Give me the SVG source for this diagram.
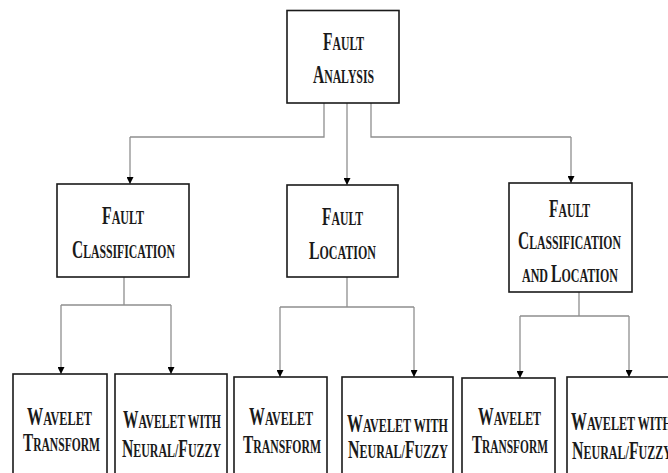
<svg xmlns="http://www.w3.org/2000/svg" width="668" height="473" viewBox="0 0 668 473">
<defs>
<marker id="ah" viewBox="0 0 10 10" refX="10" refY="5" markerWidth="10" markerHeight="7" markerUnits="userSpaceOnUse" orient="auto">
<path d="M0,0 L10,5 L0,10 z" fill="#000"/>
</marker>
</defs>
<style>
.box{fill:#fff;stroke:#1a1a1a;stroke-width:1.6}
.ln{fill:none;stroke:#8f8f8f;stroke-width:1.3}
.ar{fill:none;stroke:#8f8f8f;stroke-width:1.3;marker-end:url(#ah)}
text{font-family:"Liberation Serif","Times New Roman",serif;font-weight:bold;font-size:19px;fill:#1a1a1a}
.b{font-size:25px}
</style>
<rect width="668" height="473" fill="#fff"/>
<g id="connectors">
<path class="ln" d="M324,103 V137 H130"/>
<path class="ar" d="M130,137 V184"/>
<path class="ar" d="M347,103 V185"/>
<path class="ln" d="M371,103 V137 H571"/>
<path class="ar" d="M571,137 V183"/>
<path class="ln" d="M124,277 V305 M61,305 H171"/>
<path class="ar" d="M61,305 V374"/>
<path class="ar" d="M171,305 V374"/>
<path class="ln" d="M347,277 V307 M280,307 H414"/>
<path class="ar" d="M280,307 V377"/>
<path class="ar" d="M414,307 V377"/>
<path class="ln" d="M579,292 V316 M520,316 H629"/>
<path class="ar" d="M520,316 V378"/>
<path class="ar" d="M629,316 V377"/>
</g>
<g id="fault-analysis">
<rect class="box" x="287" y="10.5" width="112" height="92.5"/>
<text x="323" y="50" textLength="41" lengthAdjust="spacingAndGlyphs"><tspan class="b">F</tspan>AULT</text>
<text x="313" y="83" textLength="61" lengthAdjust="spacingAndGlyphs"><tspan class="b">A</tspan>NALYSIS</text>
</g>
<g id="fault-classification">
<rect class="box" x="57" y="184" width="132" height="93"/>
<text x="102" y="224" textLength="42" lengthAdjust="spacingAndGlyphs"><tspan class="b">F</tspan>AULT</text>
<text x="72" y="258" textLength="103" lengthAdjust="spacingAndGlyphs"><tspan class="b">C</tspan>LASSIFICATION</text>
</g>
<g id="fault-location">
<rect class="box" x="287" y="185" width="111" height="92"/>
<text x="322" y="225" textLength="41" lengthAdjust="spacingAndGlyphs"><tspan class="b">F</tspan>AULT</text>
<text x="309" y="259" textLength="67" lengthAdjust="spacingAndGlyphs"><tspan class="b">L</tspan>OCATION</text>
</g>
<g id="fault-classification-location">
<rect class="box" x="509" y="183" width="123" height="109"/>
<text x="549" y="217" textLength="41" lengthAdjust="spacingAndGlyphs"><tspan class="b">F</tspan>AULT</text>
<text x="518" y="249" textLength="103" lengthAdjust="spacingAndGlyphs"><tspan class="b">C</tspan>LASSIFICATION</text>
<text x="522" y="282" textLength="96" lengthAdjust="spacingAndGlyphs">AND <tspan class="b">L</tspan>OCATION</text>
</g>
<g id="wt-1">
<rect class="box" x="13" y="374" width="94" height="110"/>
<text x="27" y="425" textLength="65" lengthAdjust="spacingAndGlyphs"><tspan class="b">W</tspan>AVELET</text>
<text x="23" y="451" textLength="77" lengthAdjust="spacingAndGlyphs"><tspan class="b">T</tspan>RANSFORM</text>
</g>
<g id="wnf-1">
<rect class="box" x="115" y="374" width="112" height="110"/>
<text x="123" y="428" textLength="98" lengthAdjust="spacingAndGlyphs"><tspan class="b">W</tspan>AVELET WITH</text>
<text x="122" y="457" textLength="99" lengthAdjust="spacingAndGlyphs"><tspan class="b">N</tspan>EURAL/<tspan class="b">F</tspan>UZZY</text>
</g>
<g id="wt-2">
<rect class="box" x="234" y="377" width="93" height="110"/>
<text x="249" y="425" textLength="64" lengthAdjust="spacingAndGlyphs"><tspan class="b">W</tspan>AVELET</text>
<text x="243" y="453" textLength="78" lengthAdjust="spacingAndGlyphs"><tspan class="b">T</tspan>RANSFORM</text>
</g>
<g id="wnf-2">
<rect class="box" x="342" y="377" width="111" height="110"/>
<text x="347" y="432" textLength="101" lengthAdjust="spacingAndGlyphs"><tspan class="b">W</tspan>AVELET WITH</text>
<text x="348" y="458" textLength="100" lengthAdjust="spacingAndGlyphs"><tspan class="b">N</tspan>EURAL/<tspan class="b">F</tspan>UZZY</text>
</g>
<g id="wt-3">
<rect class="box" x="462" y="378" width="93" height="110"/>
<text x="478" y="425" textLength="63" lengthAdjust="spacingAndGlyphs"><tspan class="b">W</tspan>AVELET</text>
<text x="472" y="453" textLength="76" lengthAdjust="spacingAndGlyphs"><tspan class="b">T</tspan>RANSFORM</text>
</g>
<g id="wnf-3">
<rect class="box" x="567" y="377" width="112" height="110"/>
<text x="571" y="430" textLength="101" lengthAdjust="spacingAndGlyphs"><tspan class="b">W</tspan>AVELET WITH</text>
<text x="572" y="459" textLength="100" lengthAdjust="spacingAndGlyphs"><tspan class="b">N</tspan>EURAL/<tspan class="b">F</tspan>UZZY</text>
</g>
</svg>
